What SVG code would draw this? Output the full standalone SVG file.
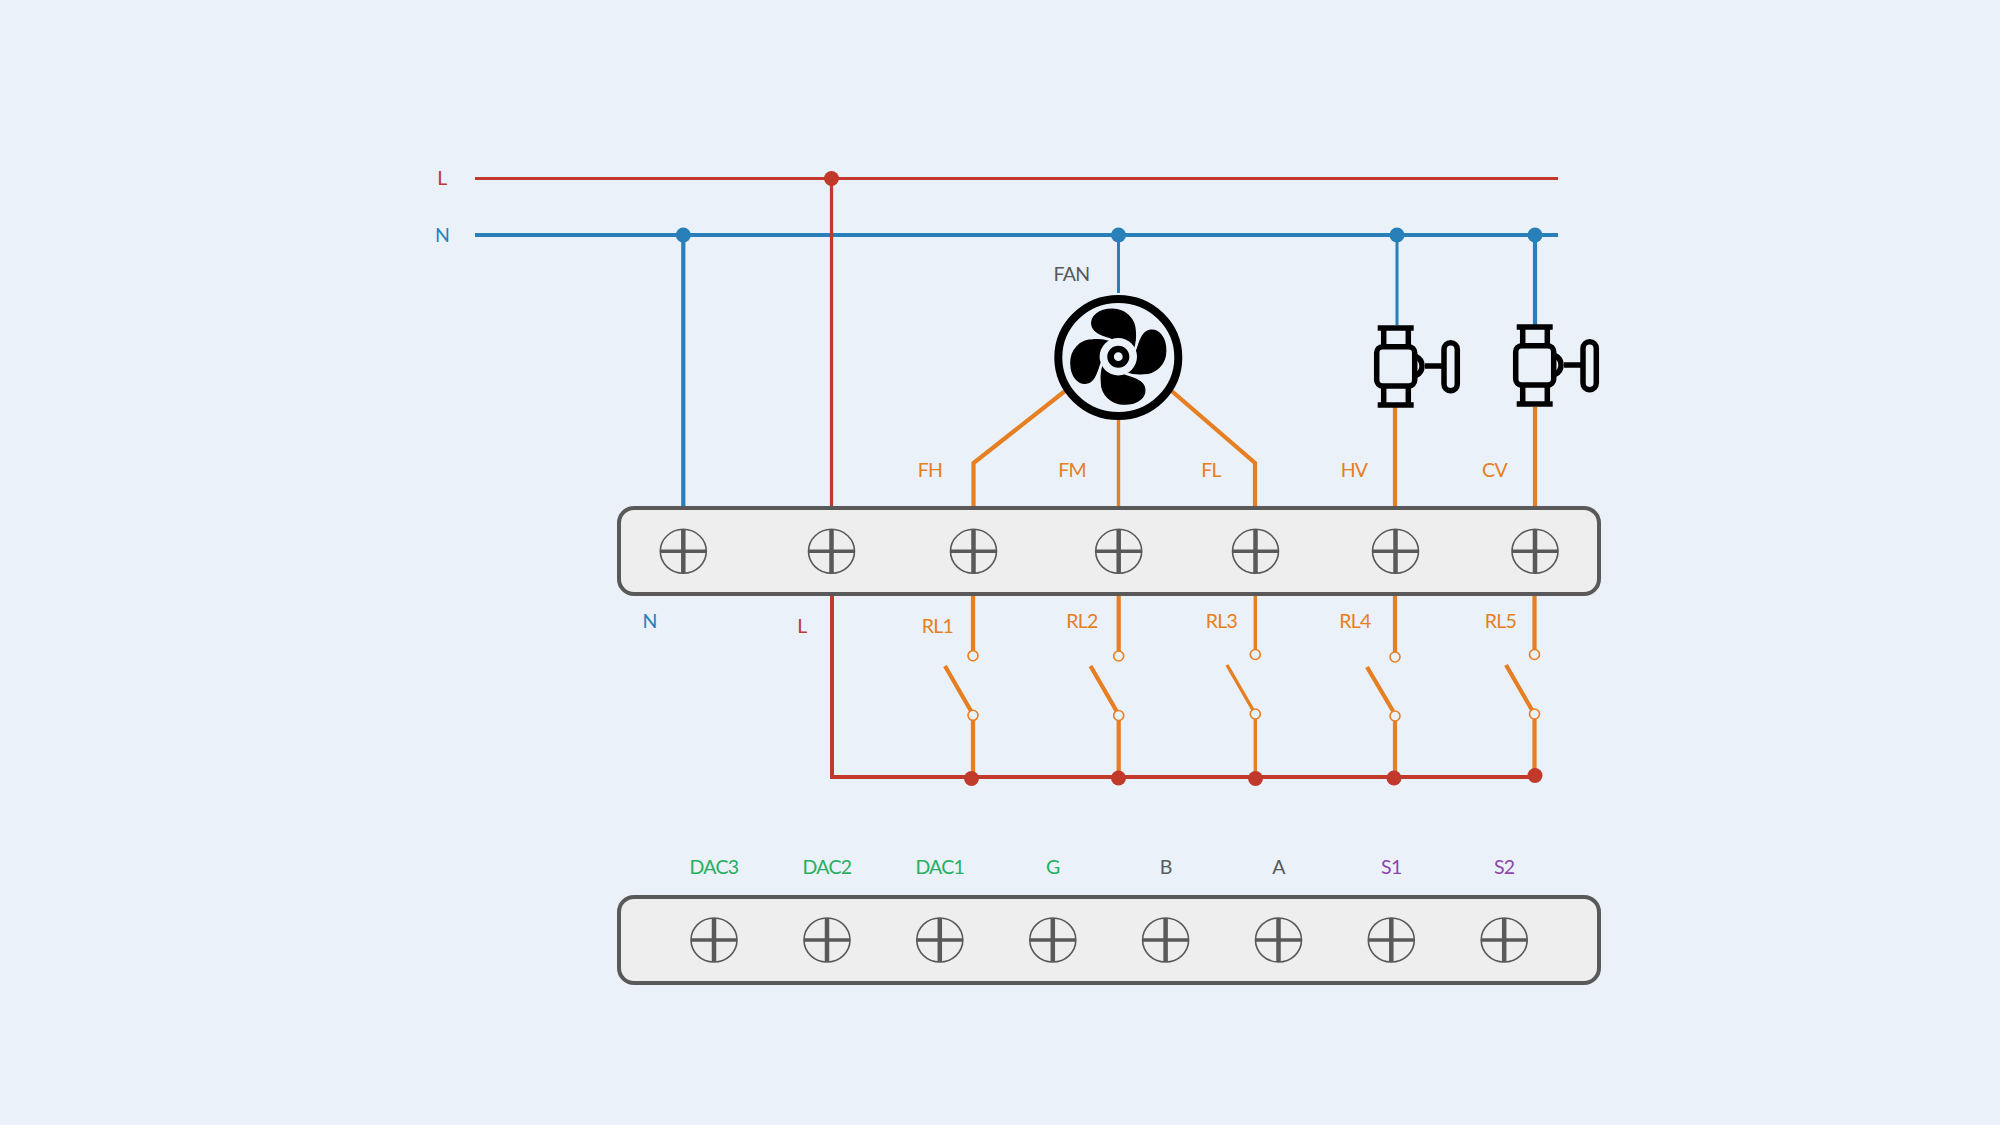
<svg xmlns="http://www.w3.org/2000/svg" xmlns:xlink="http://www.w3.org/1999/xlink" width="2000" height="1125" viewBox="0 0 2000 1125">
<style>
text{font-family:"Lato","Open Sans",sans-serif;font-size:19.5px;letter-spacing:-0.7px;text-anchor:middle;dominant-baseline:central}
.r{fill:#C0392B}.b{fill:#2980B9}.o{fill:#E67E22}.g{fill:#27AE60}.p{fill:#8E44AD}.k{fill:#595959}
.w{fill:none;stroke-linejoin:miter}
.wr{stroke:#C0392B;stroke-width:4}.wb{stroke:#2980B9;stroke-width:4.2}.wo{stroke:#E67E22;stroke-width:4.2}
.box{fill:#EEEEEE;stroke:#595959;stroke-width:4}
.sc{fill:none;stroke:#595959;stroke-width:1.6}
.sv{stroke:#595959;stroke-width:4.5}.sh{stroke:#595959;stroke-width:3.5}
.c{fill:#EAF1F9;stroke:#E67E22;stroke-width:1.6}
.v{fill:none;stroke:#000;stroke-width:5.5}
#blade{stroke:#000;stroke-width:1.2;stroke-linejoin:round}
</style>
<defs>
<g id="t"><ellipse class="sc" rx="23" ry="22"/><line class="sv" x1="0" y1="-22" x2="0" y2="22"/><line class="sh" x1="-23" y1="0" x2="23" y2="0"/></g>
<path id="blade" d="M15,-8C17,-14 17.5,-20 17,-25C17,-38 7,-47.5 -6,-47.5C-20,-47.5 -27.5,-40 -26.5,-32C-25.5,-25 -18,-22 -8,-19C-3,-17.5 0,-14 2,-10Z"/>
<g id="valve">
<path class="v" d="M1377.7,328H1413.7M1383.7,328V347M1408.3,328V347M1377.7,405H1413.7M1383.7,386V405M1408.3,386V405"/>
<rect class="v" x="1376.7" y="346.7" width="38" height="39.3" rx="6"/>
<path class="v" d="M1416,356.5A10.5,10.5 0 0 1 1416,375.5M1425,366H1444"/>
<rect class="v" x="1444" y="342.7" width="13.3" height="48" rx="6.6"/>
</g>
<g id="sw">
<circle class="c" cx="0" cy="0" r="5"/>
</g>
</defs>
<rect width="2000" height="1125" fill="#EAF1F9"/>
<g id="connectors" class="w">
<path class="wr" style="stroke-width:3.2" d="M475,178.5H1558"/>
<path class="wb" d="M475,235H1558"/>
<path class="wb" d="M683.3,235V508"/>
<path class="wb" style="stroke-width:3" d="M1118.5,235V293"/>
<path class="wb" style="stroke-width:3" d="M1397,235V325"/>
<path class="wb" d="M1535,235V325"/>
<path class="wr" style="stroke-width:3.2" d="M831.5,178.5V508"/>
<path class="wo" d="M1065,391L973.5,463V508"/>
<path class="wo" style="stroke-width:3.4" d="M1118.5,419V508"/>
<path class="wo" d="M1171.7,391L1255,463V508"/>
<path class="wo" d="M1395,407V508"/>
<path class="wo" d="M1535,407V508"/>
<path class="wr" style="stroke-width:4" d="M832,594V777H1534"/>
<path class="wo" d="M973,594V651M945,666L971,711M973,720V777"/>
<path class="wo" d="M1118.7,594V651M1090.5,666L1116.5,711M1118.7,720V777"/>
<path class="wo" style="stroke-width:3.4" d="M1255.3,594V650M1227,665L1253,710M1255.3,719V777"/>
<path class="wo" d="M1395,594V652M1367,667L1393,711M1395,721V777"/>
<path class="wo" d="M1534.5,594V650M1506,665L1532,710M1534.5,719V775"/>
<circle class="r" cx="831.5" cy="178.5" r="7.5"/>
<circle class="b" cx="683.3" cy="235" r="7.5"/><circle class="b" cx="1118.5" cy="235" r="7.5"/><circle class="b" cx="1397" cy="235" r="7.5"/><circle class="b" cx="1535" cy="235" r="7.5"/>
<circle class="r" cx="971.5" cy="778.5" r="7.5"/><circle class="r" cx="1118.5" cy="778" r="7.5"/><circle class="r" cx="1255.5" cy="778.5" r="7.5"/><circle class="r" cx="1394" cy="778" r="7.5"/><circle class="r" cx="1535" cy="775.5" r="7.5"/>
<use xlink:href="#sw" x="973" y="655.7"/><use xlink:href="#sw" x="973" y="715.3"/>
<use xlink:href="#sw" x="1118.7" y="656"/><use xlink:href="#sw" x="1118.7" y="715.5"/>
<use xlink:href="#sw" x="1255.3" y="654.5"/><use xlink:href="#sw" x="1255.3" y="714"/>
<use xlink:href="#sw" x="1395" y="657"/><use xlink:href="#sw" x="1395" y="716"/>
<use xlink:href="#sw" x="1534.5" y="654.5"/><use xlink:href="#sw" x="1534.5" y="714"/>
</g>
<g id="terminal-block-top">
<rect class="box" x="619" y="508" width="980" height="86" rx="15"/>
<use xlink:href="#t" x="683.3" y="551.3"/><use xlink:href="#t" x="831.5" y="551.3"/><use xlink:href="#t" x="973.5" y="551.3"/><use xlink:href="#t" x="1118.7" y="551.3"/><use xlink:href="#t" x="1255.5" y="551.3"/><use xlink:href="#t" x="1395.5" y="551.3"/><use xlink:href="#t" x="1535" y="551.3"/>
</g>
<g id="terminal-block-bottom">
<rect class="box" x="619" y="897" width="980" height="86" rx="15"/>
<use xlink:href="#t" x="714" y="940"/><use xlink:href="#t" x="827" y="940"/><use xlink:href="#t" x="939.8" y="940"/><use xlink:href="#t" x="1052.8" y="940"/><use xlink:href="#t" x="1165.6" y="940"/><use xlink:href="#t" x="1278.5" y="940"/><use xlink:href="#t" x="1391.3" y="940"/><use xlink:href="#t" x="1504.2" y="940"/>
</g>
<g id="fan" transform="translate(1118.3 356.7)">
<ellipse cy="0.8" rx="60" ry="58.5" fill="#EAF1F9" stroke="#000" stroke-width="8"/>
<use xlink:href="#blade"/><use xlink:href="#blade" transform="rotate(90)"/><use xlink:href="#blade" transform="rotate(180)"/><use xlink:href="#blade" transform="rotate(270)"/>
<circle r="18.7" fill="#EAF1F9"/>
<circle r="7.7" fill="none" stroke="#000" stroke-width="6.6"/>
</g>
<g id="valve-hv"><use xlink:href="#valve"/></g>
<g id="valve-cv"><use xlink:href="#valve" x="139" y="-1"/></g>
<g id="labels">
<text class="r" x="442" y="177.5">L</text><text class="b" x="442" y="234.5">N</text>
<text class="k" x="1071.5" y="273.5">FAN</text>
<text class="o" x="930" y="469.5">FH</text><text class="o" x="1072" y="469.5">FM</text><text class="o" x="1211" y="469.5">FL</text><text class="o" x="1354" y="469">HV</text><text class="o" x="1494.5" y="469.5">CV</text>
<text class="b" x="649.5" y="620.5">N</text><text class="r" x="802" y="625.5">L</text>
<text class="o" x="937.5" y="625.5">RL1</text><text class="o" x="1082" y="620.5">RL2</text><text class="o" x="1221.5" y="620.5">RL3</text><text class="o" x="1355" y="620.5">RL4</text><text class="o" x="1500.5" y="620.5">RL5</text>
<text class="g" x="714" y="866.5">DAC3</text><text class="g" x="827" y="866.5">DAC2</text><text class="g" x="939.8" y="866.5">DAC1</text><text class="g" x="1052.8" y="866.5">G</text><text class="k" x="1165.6" y="866.5">B</text><text class="k" x="1278.5" y="866.5">A</text><text class="p" x="1391.3" y="866.5">S1</text><text class="p" x="1504.2" y="866.5">S2</text>
</g>
</svg>
